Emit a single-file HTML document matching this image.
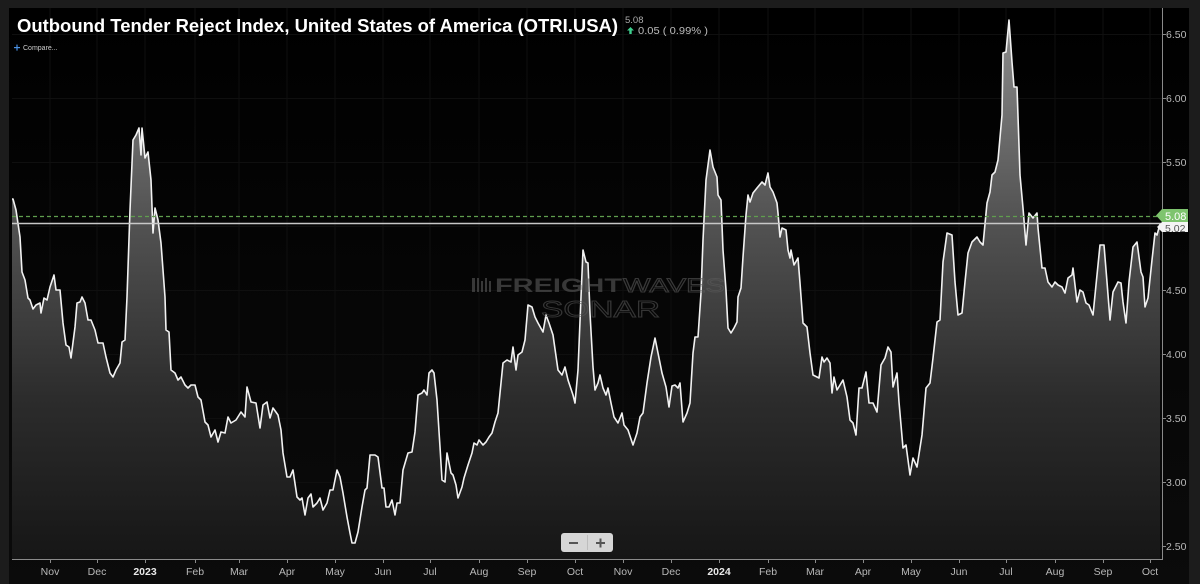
<!DOCTYPE html>
<html><head><meta charset="utf-8"><style>
html,body{margin:0;padding:0;background:#1c1c1c;width:1200px;height:584px;overflow:hidden}
svg{display:block}
text{font-family:"Liberation Sans",Arial,sans-serif}
</style></head><body>
<svg width="1200" height="584" viewBox="0 0 1200 584" xmlns="http://www.w3.org/2000/svg">
<defs>
<linearGradient id="fg" gradientUnits="userSpaceOnUse" x1="0" y1="20" x2="0" y2="560">
<stop offset="0" stop-color="#8c8c8c"/>
<stop offset="0.35" stop-color="#555"/>
<stop offset="0.7" stop-color="#2c2c2c"/>
<stop offset="1" stop-color="#161616"/>
</linearGradient>
<linearGradient id="bg" x1="0" y1="0" x2="0" y2="1">
<stop offset="0" stop-color="#000"/>
<stop offset="1" stop-color="#0b0b0b"/>
</linearGradient>
</defs>
<rect x="0" y="0" width="1200" height="584" fill="#1c1c1c"/>
<rect x="9" y="8" width="1180" height="576" fill="url(#bg)"/>

<!-- grid -->
<g stroke="#0f0f0f" stroke-width="1">
<line x1="12" y1="34.5" x2="1162" y2="34.5"/><line x1="12" y1="98.5" x2="1162" y2="98.5"/>
<line x1="12" y1="162.5" x2="1162" y2="162.5"/><line x1="12" y1="226.5" x2="1162" y2="226.5"/>
<line x1="12" y1="290.5" x2="1162" y2="290.5"/><line x1="12" y1="354.5" x2="1162" y2="354.5"/>
<line x1="12" y1="418.5" x2="1162" y2="418.5"/><line x1="12" y1="482.5" x2="1162" y2="482.5"/>
<line x1="12" y1="546.5" x2="1162" y2="546.5"/>
<line x1="50" y1="8" x2="50" y2="559"/><line x1="97" y1="8" x2="97" y2="559"/><line x1="145" y1="8" x2="145" y2="559"/>
<line x1="195" y1="8" x2="195" y2="559"/><line x1="239" y1="8" x2="239" y2="559"/><line x1="287" y1="8" x2="287" y2="559"/>
<line x1="335" y1="8" x2="335" y2="559"/><line x1="383" y1="8" x2="383" y2="559"/><line x1="430" y1="8" x2="430" y2="559"/>
<line x1="479" y1="8" x2="479" y2="559"/><line x1="527" y1="8" x2="527" y2="559"/><line x1="575" y1="8" x2="575" y2="559"/>
<line x1="623" y1="8" x2="623" y2="559"/><line x1="671" y1="8" x2="671" y2="559"/><line x1="719" y1="8" x2="719" y2="559"/>
<line x1="768" y1="8" x2="768" y2="559"/><line x1="815" y1="8" x2="815" y2="559"/><line x1="863" y1="8" x2="863" y2="559"/>
<line x1="911" y1="8" x2="911" y2="559"/><line x1="959" y1="8" x2="959" y2="559"/><line x1="1006" y1="8" x2="1006" y2="559"/>
<line x1="1055" y1="8" x2="1055" y2="559"/><line x1="1103" y1="8" x2="1103" y2="559"/><line x1="1150" y1="8" x2="1150" y2="559"/>
</g>

<!-- series -->
<g id="series">
<polygon fill="url(#fg)" points="12,560 12,199 13,199 16,210 20,237 22,272 25,280 28,298 30,300 33,309 36,305 40,303 41,313 44,298 47,300 50,287 54,275 56,290 60,290 63,323 66,345 69,347 71,358 75,327 77,303 80,302 82,297 85,303 88,320 91,320 95,330 98,343 103,343 106,357 110,373 113,377 116,370 120,363 122,342 125,340 127,297 130,210 133,140 136,135 139,128 141,155 142,128 145,158 148,152 151,180 153,233 155,208 158,220 161,243 165,297 166,330 169,332 171,370 175,373 178,380 181,377 185,385 188,388 191,385 195,385 198,397 201,400 205,422 208,425 211,437 215,430 218,442 221,432 225,433 228,417 231,423 236,420 241,412 245,417 247,387 251,402 256,403 260,428 263,405 267,402 270,418 273,408 278,415 281,430 283,453 287,477 290,477 293,470 297,497 300,500 302,498 305,515 308,498 311,494 313,507 317,503 320,498 323,510 327,503 330,490 333,490 337,470 340,477 343,493 347,517 350,533 352,543 355,543 358,532 362,507 365,490 367,488 370,455 375,455 378,457 382,488 384,488 386,507 389,507 392,500 395,515 397,503 400,503 403,470 408,453 412,452 415,432 418,395 422,393 424,390 427,395 429,373 432,370 434,373 437,400 440,447 442,480 445,482 447,453 451,473 453,475 456,485 458,498 462,487 464,478 468,465 472,453 474,443 477,445 479,440 483,445 486,442 489,437 492,433 495,422 498,413 503,363 507,360 511,362 513,347 516,370 518,355 522,352 525,340 528,305 532,307 535,317 538,323 543,332 546,315 549,323 553,335 558,370 562,375 565,367 568,380 573,395 575,403 578,370 581,297 583,250 586,262 588,263 590,313 593,367 595,390 598,383 600,375 603,388 606,395 608,388 611,403 614,417 618,423 622,413 624,425 628,430 633,445 637,433 640,417 643,413 647,383 651,357 655,338 658,353 662,373 666,387 669,407 672,386 675,385 678,388 680,383 683,422 687,413 690,403 693,353 695,337 698,337 701,293 703,240 706,180 710,150 713,167 717,177 718,195 721,200 723,250 726,290 728,328 731,333 734,328 737,322 738,297 741,288 743,257 746,215 748,195 750,202 753,193 757,188 762,182 765,185 768,173 770,187 773,192 777,203 778,213 780,237 782,228 786,230 788,250 790,258 791,250 794,265 798,258 800,283 803,323 807,327 810,353 813,375 817,377 819,378 822,357 824,362 827,358 830,363 832,393 834,377 837,390 840,385 843,380 847,397 850,420 853,423 856,435 859,388 862,388 866,372 869,403 873,403 877,412 881,365 885,358 888,347 891,352 893,387 897,373 899,402 903,448 906,445 910,475 913,458 917,467 922,435 926,388 930,383 933,358 937,322 940,320 943,262 947,233 952,235 955,282 958,315 962,313 965,282 968,253 972,242 977,237 980,242 983,245 987,203 990,192 992,175 995,172 998,160 1002,115 1003,53 1006,52 1009,20 1012,62 1014,87 1017,87 1020,175 1023,208 1026,245 1029,213 1033,218 1037,213 1038,228 1042,268 1045,268 1048,282 1052,287 1055,282 1058,285 1062,287 1065,293 1068,278 1072,275 1073,268 1077,302 1080,290 1083,292 1086,303 1089,305 1093,315 1096,285 1100,245 1104,245 1107,282 1110,320 1113,292 1118,282 1121,283 1123,302 1126,323 1129,282 1133,247 1137,242 1141,272 1143,277 1145,307 1148,298 1152,260 1155,233 1157,235 1160,224 1160,560"/>
<polyline fill="none" stroke="#f2f2f2" stroke-width="1.6" stroke-linejoin="round" points="12,199 13,199 16,210 20,237 22,272 25,280 28,298 30,300 33,309 36,305 40,303 41,313 44,298 47,300 50,287 54,275 56,290 60,290 63,323 66,345 69,347 71,358 75,327 77,303 80,302 82,297 85,303 88,320 91,320 95,330 98,343 103,343 106,357 110,373 113,377 116,370 120,363 122,342 125,340 127,297 130,210 133,140 136,135 139,128 141,155 142,128 145,158 148,152 151,180 153,233 155,208 158,220 161,243 165,297 166,330 169,332 171,370 175,373 178,380 181,377 185,385 188,388 191,385 195,385 198,397 201,400 205,422 208,425 211,437 215,430 218,442 221,432 225,433 228,417 231,423 236,420 241,412 245,417 247,387 251,402 256,403 260,428 263,405 267,402 270,418 273,408 278,415 281,430 283,453 287,477 290,477 293,470 297,497 300,500 302,498 305,515 308,498 311,494 313,507 317,503 320,498 323,510 327,503 330,490 333,490 337,470 340,477 343,493 347,517 350,533 352,543 355,543 358,532 362,507 365,490 367,488 370,455 375,455 378,457 382,488 384,488 386,507 389,507 392,500 395,515 397,503 400,503 403,470 408,453 412,452 415,432 418,395 422,393 424,390 427,395 429,373 432,370 434,373 437,400 440,447 442,480 445,482 447,453 451,473 453,475 456,485 458,498 462,487 464,478 468,465 472,453 474,443 477,445 479,440 483,445 486,442 489,437 492,433 495,422 498,413 503,363 507,360 511,362 513,347 516,370 518,355 522,352 525,340 528,305 532,307 535,317 538,323 543,332 546,315 549,323 553,335 558,370 562,375 565,367 568,380 573,395 575,403 578,370 581,297 583,250 586,262 588,263 590,313 593,367 595,390 598,383 600,375 603,388 606,395 608,388 611,403 614,417 618,423 622,413 624,425 628,430 633,445 637,433 640,417 643,413 647,383 651,357 655,338 658,353 662,373 666,387 669,407 672,386 675,385 678,388 680,383 683,422 687,413 690,403 693,353 695,337 698,337 701,293 703,240 706,180 710,150 713,167 717,177 718,195 721,200 723,250 726,290 728,328 731,333 734,328 737,322 738,297 741,288 743,257 746,215 748,195 750,202 753,193 757,188 762,182 765,185 768,173 770,187 773,192 777,203 778,213 780,237 782,228 786,230 788,250 790,258 791,250 794,265 798,258 800,283 803,323 807,327 810,353 813,375 817,377 819,378 822,357 824,362 827,358 830,363 832,393 834,377 837,390 840,385 843,380 847,397 850,420 853,423 856,435 859,388 862,388 866,372 869,403 873,403 877,412 881,365 885,358 888,347 891,352 893,387 897,373 899,402 903,448 906,445 910,475 913,458 917,467 922,435 926,388 930,383 933,358 937,322 940,320 943,262 947,233 952,235 955,282 958,315 962,313 965,282 968,253 972,242 977,237 980,242 983,245 987,203 990,192 992,175 995,172 998,160 1002,115 1003,53 1006,52 1009,20 1012,62 1014,87 1017,87 1020,175 1023,208 1026,245 1029,213 1033,218 1037,213 1038,228 1042,268 1045,268 1048,282 1052,287 1055,282 1058,285 1062,287 1065,293 1068,278 1072,275 1073,268 1077,302 1080,290 1083,292 1086,303 1089,305 1093,315 1096,285 1100,245 1104,245 1107,282 1110,320 1113,292 1118,282 1121,283 1123,302 1126,323 1129,282 1133,247 1137,242 1141,272 1143,277 1145,307 1148,298 1152,260 1155,233 1157,235 1160,224"/>
</g>

<!-- watermark (on top) -->
<g fill="#5a5a5a" opacity="0.6">
<rect x="472" y="278" width="3" height="14"/><rect x="477" y="278" width="2" height="14"/><rect x="481" y="281" width="2" height="11"/><rect x="485" y="278" width="2" height="14"/><rect x="489" y="281" width="2" height="11"/>
<text x="495" y="292" font-size="19" font-weight="bold" textLength="127" lengthAdjust="spacingAndGlyphs">FREIGHT</text>
<text x="623" y="292" font-size="19" fill="none" stroke="#5a5a5a" stroke-width="0.9" textLength="102" lengthAdjust="spacingAndGlyphs">WAVES</text>
<text x="541" y="317" font-size="23" fill="none" stroke="#555" stroke-width="0.9" textLength="119" lengthAdjust="spacingAndGlyphs">SONAR</text>
</g>

<!-- reference lines -->
<line x1="12" y1="216.5" x2="1160" y2="216.5" stroke="#5f9e4e" stroke-width="1.2" stroke-dasharray="4,3"/>
<line x1="12" y1="223.5" x2="1162" y2="223.5" stroke="#c8c8c8" stroke-width="1.4"/>

<!-- axes -->
<line x1="1162.5" y1="8" x2="1162.5" y2="560" stroke="#8a8a8a" stroke-width="1"/>
<line x1="12" y1="559.5" x2="1163" y2="559.5" stroke="#8a8a8a" stroke-width="1"/>
<g stroke="#8a8a8a" stroke-width="1">
<line x1="1162" y1="34.5" x2="1166" y2="34.5"/><line x1="1162" y1="98.5" x2="1166" y2="98.5"/><line x1="1162" y1="162.5" x2="1166" y2="162.5"/>
<line x1="1162" y1="290.5" x2="1166" y2="290.5"/><line x1="1162" y1="354.5" x2="1166" y2="354.5"/><line x1="1162" y1="418.5" x2="1166" y2="418.5"/>
<line x1="1162" y1="482.5" x2="1166" y2="482.5"/><line x1="1162" y1="546.5" x2="1166" y2="546.5"/>
<line x1="50.5" y1="559" x2="50.5" y2="563"/><line x1="97.5" y1="559" x2="97.5" y2="563"/><line x1="145.5" y1="559" x2="145.5" y2="563"/>
<line x1="195.5" y1="559" x2="195.5" y2="563"/><line x1="239.5" y1="559" x2="239.5" y2="563"/><line x1="287.5" y1="559" x2="287.5" y2="563"/>
<line x1="335.5" y1="559" x2="335.5" y2="563"/><line x1="383.5" y1="559" x2="383.5" y2="563"/><line x1="430.5" y1="559" x2="430.5" y2="563"/>
<line x1="479.5" y1="559" x2="479.5" y2="563"/><line x1="527.5" y1="559" x2="527.5" y2="563"/><line x1="575.5" y1="559" x2="575.5" y2="563"/>
<line x1="623.5" y1="559" x2="623.5" y2="563"/><line x1="671.5" y1="559" x2="671.5" y2="563"/><line x1="719.5" y1="559" x2="719.5" y2="563"/>
<line x1="768.5" y1="559" x2="768.5" y2="563"/><line x1="815.5" y1="559" x2="815.5" y2="563"/><line x1="863.5" y1="559" x2="863.5" y2="563"/>
<line x1="911.5" y1="559" x2="911.5" y2="563"/><line x1="959.5" y1="559" x2="959.5" y2="563"/><line x1="1006.5" y1="559" x2="1006.5" y2="563"/>
<line x1="1055.5" y1="559" x2="1055.5" y2="563"/><line x1="1103.5" y1="559" x2="1103.5" y2="563"/><line x1="1150.5" y1="559" x2="1150.5" y2="563"/>
</g>
<g font-size="10.5" fill="#b8b8b8">
<text x="1166" y="38">6.50</text><text x="1166" y="102">6.00</text><text x="1166" y="166">5.50</text>
<text x="1166" y="294">4.50</text><text x="1166" y="358">4.00</text><text x="1166" y="422">3.50</text>
<text x="1166" y="486">3.00</text><text x="1166" y="550">2.50</text>
</g>
<g font-size="10.5" fill="#b8b8b8" text-anchor="middle">
<text x="50" y="575">Nov</text><text x="97" y="575">Dec</text><text x="145" y="575" fill="#e8e8e8" font-weight="bold">2023</text>
<text x="195" y="575">Feb</text><text x="239" y="575">Mar</text><text x="287" y="575">Apr</text>
<text x="335" y="575">May</text><text x="383" y="575">Jun</text><text x="430" y="575">Jul</text>
<text x="479" y="575">Aug</text><text x="527" y="575">Sep</text><text x="575" y="575">Oct</text>
<text x="623" y="575">Nov</text><text x="671" y="575">Dec</text><text x="719" y="575" fill="#e8e8e8" font-weight="bold">2024</text>
<text x="768" y="575">Feb</text><text x="815" y="575">Mar</text><text x="863" y="575">Apr</text>
<text x="911" y="575">May</text><text x="959" y="575">Jun</text><text x="1006" y="575">Jul</text>
<text x="1055" y="575">Aug</text><text x="1103" y="575">Sep</text><text x="1150" y="575">Oct</text>
</g>

<!-- price tags -->
<path d="M1162,222 L1188,222 L1188,232 L1162,232 L1157,227 Z" fill="#f4f4f4"/>
<text x="1165" y="232" font-size="10.5" fill="#555">5.02</text>
<path d="M1162,209 L1188,209 L1188,222 L1162,222 L1156,215.5 Z" fill="#7ec46e"/>
<text x="1165" y="220" font-size="11" fill="#ffffff">5.08</text>

<!-- zoom control -->
<rect x="561" y="533" width="52" height="19" rx="3" fill="#d6d6d6"/>
<line x1="587.5" y1="535" x2="587.5" y2="550" stroke="#bdbdbd" stroke-width="1"/>
<rect x="569" y="542" width="9" height="2" fill="#555"/>
<rect x="596" y="542" width="9" height="2" fill="#555"/><rect x="599.5" y="538.5" width="2" height="9" fill="#555"/>

<!-- header -->
<text x="17" y="32" font-size="18" font-weight="bold" fill="#ffffff" textLength="601" lengthAdjust="spacingAndGlyphs">Outbound Tender Reject Index, United States of America (OTRI.USA)</text>
<text x="625" y="23" font-size="9.5" fill="#aaaaaa">5.08</text>
<path d="M630.5,27 L627,30.5 L629.3,30.5 L629.3,34 L631.7,34 L631.7,30.5 L634,30.5 Z" fill="#3ecf8e"/>
<text x="638" y="34" font-size="10" fill="#bbbbbb" textLength="70" lengthAdjust="spacingAndGlyphs">0.05 ( 0.99% )</text>
<rect x="14" y="47" width="6" height="1.2" fill="#4a90e2"/><rect x="16.4" y="44.6" width="1.2" height="6" fill="#4a90e2"/>
<text x="23" y="50" font-size="7" fill="#cccccc">Compare...</text>
</svg>
</body></html>
